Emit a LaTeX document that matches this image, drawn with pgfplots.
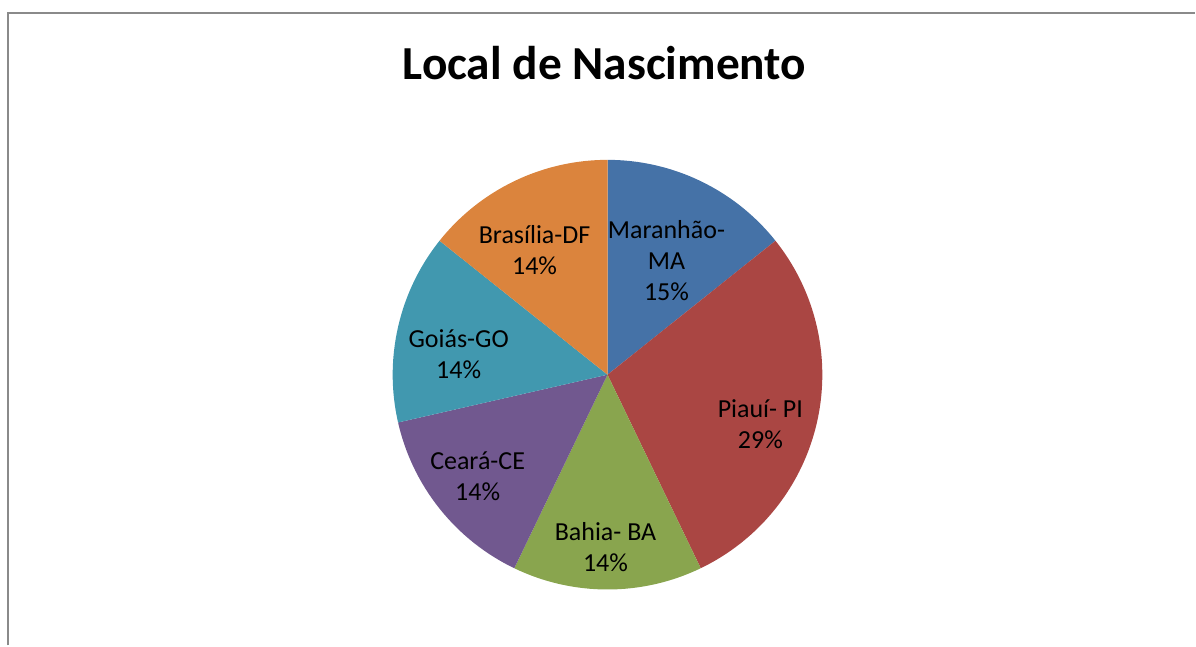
\documentclass[border=0pt]{standalone}
\usepackage{pgfplots}
\pgfplotsset{compat=1.18}
\usepackage{fontspec}
\setmainfont{Carlito}
\definecolor{cMA}{HTML}{4572A7}
\definecolor{cPI}{HTML}{AA4643}
\definecolor{cBA}{HTML}{89A54E}
\definecolor{cCE}{HTML}{71588F}
\definecolor{cGO}{HTML}{4198AF}
\definecolor{cDF}{HTML}{DB843D}
\definecolor{frame}{HTML}{8A8A8A}
\begin{document}
\begin{tikzpicture}
\begin{axis}[hide axis, scale only axis, x=0.5pt, y=0.5pt,
  xmin=0, xmax=1196, ymin=0, ymax=646, clip=false]
\path (axis cs:0,0) rectangle (axis cs:1196,646);
% values: Maranhão 1, Piauí 2, Bahia 1, Ceará 1, Goiás 1, Brasília 1 (total 7)
\xdef\cum{0}
\foreach \v/\c in {1/cMA,2/cPI,1/cBA,1/cCE,1/cGO,1/cDF}{
  \pgfmathsetmacro\a{90-360*\cum/7}
  \pgfmathsetmacro\b{90-360*(\cum+\v)/7}
  \edef\temp{\noexpand\fill[\c] (axis cs:608,271) -- ++(\a:107.5pt) arc[start angle=\a, end angle=\b, radius=107.5pt] -- cycle;}
  \temp
  \pgfmathsetmacro\n{\cum+\v}
  \xdef\cum{\n}
}
\draw[frame, line width=1pt] (axis cs:8,0) -- (axis cs:8,633) -- (axis cs:1196,633);
\node[anchor=base, font=\fontsize{23.7}{28}\selectfont\bfseries] at (axis cs:605,566) {Local de Nascimento};
\tikzset{lbl/.style={align=center, font=\fontsize{13}{15.5}\selectfont}}
\node[lbl] at (axis cs:667,385) {Maranhão-\\MA\\15\%};
\node[lbl] at (axis cs:761,221) {Piauí- PI\\29\%};
\node[lbl] at (axis cs:606,98) {Bahia- BA\\14\%};
\node[lbl] at (axis cs:478,169) {Ceará-CE\\14\%};
\node[lbl] at (axis cs:459,292) {Goiás-GO\\14\%};
\node[lbl] at (axis cs:535,396) {Brasília-DF\\14\%};
\end{axis}
\end{tikzpicture}
\end{document}
